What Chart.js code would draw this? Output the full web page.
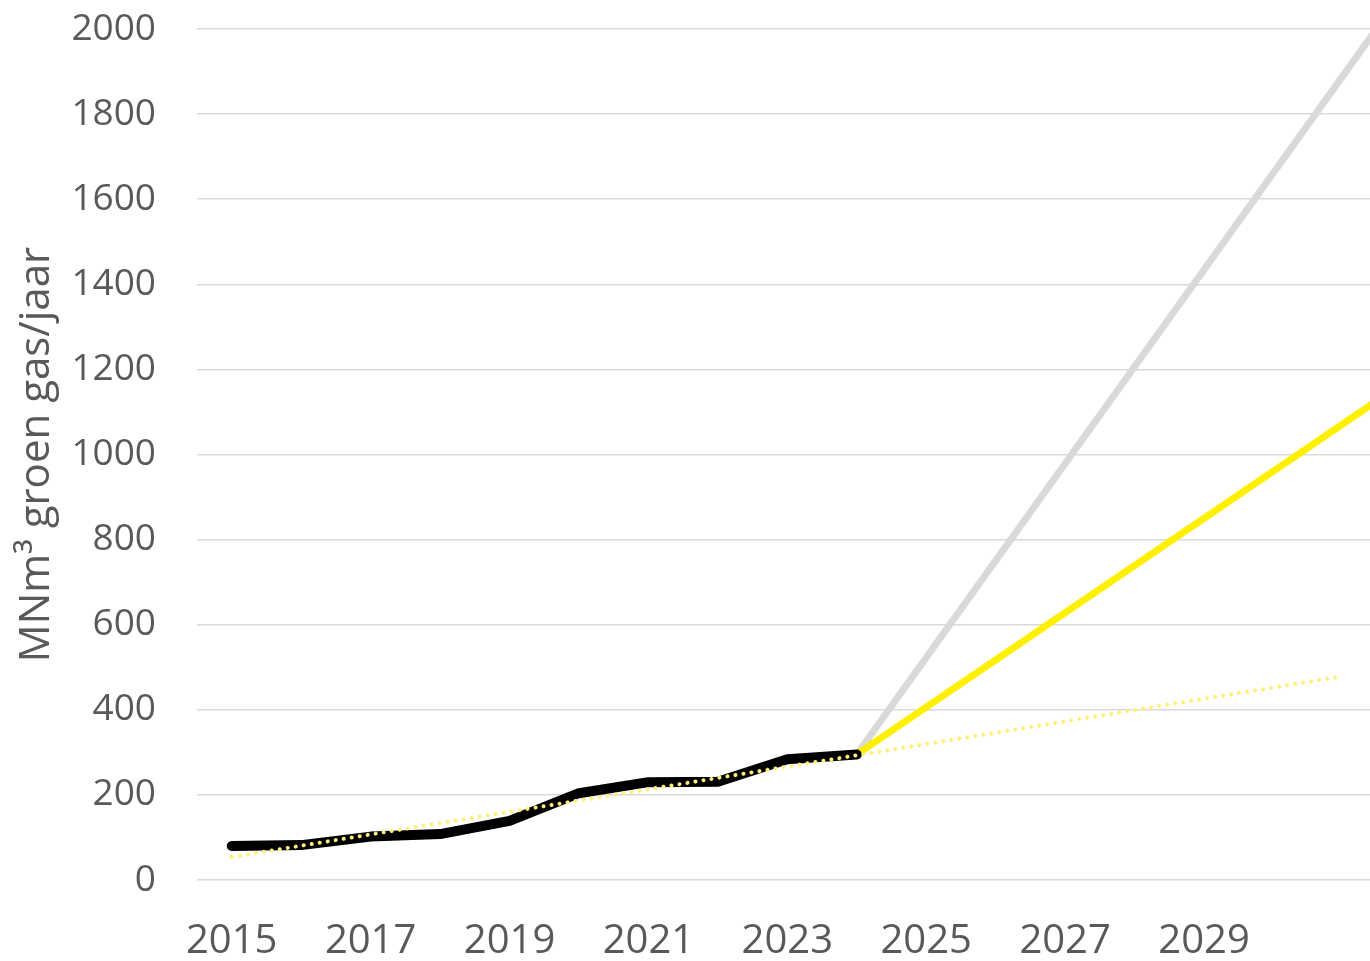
<!DOCTYPE html>
<html>
<head>
<meta charset="utf-8">
<script src="https://cdn.jsdelivr.net/npm/chart.js@4/dist/chart.umd.min.js"></script>
<style>
  html, body { margin: 0; padding: 0; background: #fff; }
  canvas { display: block; }
</style>
</head>
<body>
<canvas id="chart" width="1370" height="961"></canvas>
<script>
  // historische productie groen gas
  const years = [2015, 2016, 2017, 2018, 2019, 2020, 2021, 2022, 2023, 2024];
  const produced = [80, 82, 102, 108, 139, 204, 230, 231, 284, 295];

  // scenario's vanaf 2024 (lopen buiten beeld door)
  const scenarioYears = [2024, 2032];
  const highScenario = [295, 2118];
  const midScenario = [295, 1183];

  // lineaire trendlijn
  const trendYears = [2015, 2031];
  const trendValues = [54, 479];

  const xTicks = [2015, 2017, 2019, 2021, 2023, 2025, 2027, 2029];

  const toPoints = (xs, ys) => xs.map((x, i) => ({ x: x, y: ys[i] }));

  const textColor = '#595959';
  const font = '"Open Sans", "Liberation Sans", sans-serif';

  const ctx = document.getElementById('chart').getContext('2d');
  new Chart(ctx, {
    type: 'line',
    data: {
      datasets: [
        {
          label: 'Trend',
          data: toPoints(trendYears, trendValues),
          borderColor: '#FFF07A',
          borderWidth: 4,
          borderDash: [0.1, 8],
          borderCapStyle: 'round',
          pointRadius: 0
        },
        {
          label: 'Productie',
          data: toPoints(years, produced),
          borderColor: '#000000',
          borderWidth: 10,
          borderJoinStyle: 'round',
          borderCapStyle: 'round',
          pointRadius: 0
        },
        {
          label: 'Midden',
          data: toPoints(scenarioYears, midScenario),
          borderColor: '#FFF000',
          borderWidth: 7,
          pointRadius: 0
        },
        {
          label: 'Hoog',
          data: toPoints(scenarioYears, highScenario),
          borderColor: '#D9D9D9',
          borderWidth: 7,
          pointRadius: 0
        }
      ]
    },
    options: {
      responsive: false,
      animation: false,
      devicePixelRatio: 1,
      layout: { padding: { top: 29, right: 0, left: 0, bottom: 0 } },
      plugins: {
        legend: { display: false },
        tooltip: { enabled: false }
      },
      scales: {
        x: {
          type: 'linear',
          min: 2014.5,
          max: 2031.39,
          afterBuildTicks: scale => {
            scale.ticks = xTicks.map(v => ({ value: v }));
          },
          afterFit: scale => { scale.height = 81; },
          grid: { display: false, drawTicks: false },
          border: { display: false },
          ticks: {
            color: textColor,
            font: { family: font, size: 40 },
            padding: 38,
            maxRotation: 0,
            autoSkip: false,
            callback: v => String(v)
          }
        },
        y: {
          min: 0,
          max: 2000,
          afterFit: scale => {
            scale.width = 197;
            // tick padding mag de grafiek niet naar beneden duwen
            scale.paddingTop = 0;
            scale.paddingBottom = 0;
          },
          grid: { color: '#D9D9D9', lineWidth: 1.5, drawTicks: false },
          border: { display: false },
          ticks: {
            stepSize: 200,
            color: textColor,
            font: { family: font, size: 37 },
            padding: 41,
            callback: v => String(v)
          },
          title: {
            display: true,
            text: 'MNm³ groen gas/jaar',
            color: textColor,
            font: { family: font, size: 42 },
            padding: { top: 12, bottom: 0 }
          }
        }
      }
    }
  });
</script>
</body>
</html>
